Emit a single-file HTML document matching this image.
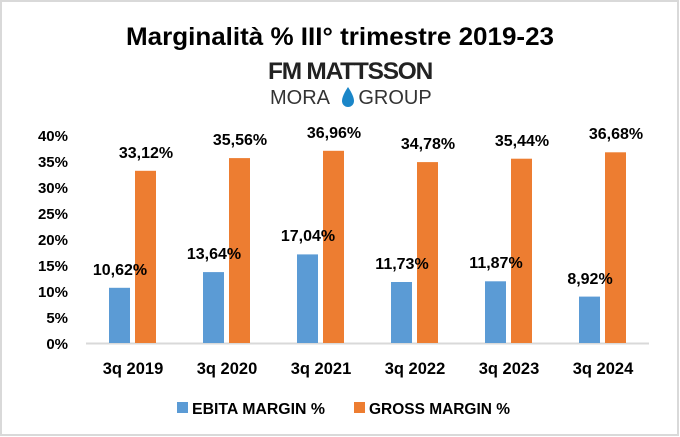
<!DOCTYPE html>
<html><head><meta charset="utf-8"><style>
body{margin:0;background:#fff;}
svg{display:block;font-family:"Liberation Sans",sans-serif;}
</style></head><body>
<svg width="680" height="437" xmlns="http://www.w3.org/2000/svg">
<rect x="1" y="1" width="677" height="434" fill="#fff" stroke="#d9d9d9" stroke-width="2"/>
<text x="340" y="45" text-anchor="middle" font-size="25" font-weight="bold" fill="#000" textLength="428" lengthAdjust="spacingAndGlyphs">Marginalità % III° trimestre 2019-23</text>
<text x="350" y="79" text-anchor="middle" font-size="24" font-weight="bold" fill="#222" letter-spacing="-1.2" textLength="164" lengthAdjust="spacingAndGlyphs">FM MATTSSON</text>
<text x="300" y="104" text-anchor="middle" font-size="20" fill="#333">MORA</text>
<path d="M348 87 Q342 96 342 101 A6 6 0 0 0 354 101 Q354 96 348 87Z" fill="#1a86c8"/>
<text x="395" y="104" text-anchor="middle" font-size="20" fill="#333">GROUP</text>
<g font-size="15" font-weight="bold" fill="#000" text-anchor="end">
<text x="68" y="141">40%</text><text x="68" y="167">35%</text><text x="68" y="193">30%</text><text x="68" y="219">25%</text><text x="68" y="245">20%</text><text x="68" y="271">15%</text><text x="68" y="297">10%</text><text x="68" y="323">5%</text><text x="68" y="349">0%</text>
</g>
<line x1="86" y1="343.5" x2="649" y2="343.5" stroke="#d9d9d9" stroke-width="2"/>
<g>
<rect x="109" y="287.8" width="21" height="55.2" fill="#5b9bd5"/><rect x="135" y="170.8" width="21" height="172.2" fill="#ed7d31"/>
<rect x="203" y="272.1" width="21" height="70.9" fill="#5b9bd5"/><rect x="229" y="158.1" width="21" height="184.9" fill="#ed7d31"/>
<rect x="297" y="254.4" width="21" height="88.6" fill="#5b9bd5"/><rect x="323" y="150.8" width="21" height="192.2" fill="#ed7d31"/>
<rect x="391" y="282" width="21" height="61" fill="#5b9bd5"/><rect x="417" y="162.1" width="21" height="180.9" fill="#ed7d31"/>
<rect x="485" y="281.3" width="21" height="61.7" fill="#5b9bd5"/><rect x="511" y="158.7" width="21" height="184.3" fill="#ed7d31"/>
<rect x="579" y="296.6" width="21" height="46.4" fill="#5b9bd5"/><rect x="605" y="152.3" width="21" height="190.7" fill="#ed7d31"/>
</g>
<g font-size="16" font-weight="bold" fill="#000" text-anchor="middle">
<text x="120" y="275">10,62%</text><text x="146" y="158">33,12%</text>
<text x="214" y="259">13,64%</text><text x="240" y="145">35,56%</text>
<text x="308" y="241">17,04%</text><text x="334" y="138">36,96%</text>
<text x="402" y="269">11,73%</text><text x="428" y="149">34,78%</text>
<text x="496" y="268">11,87%</text><text x="522" y="146">35,44%</text>
<text x="590" y="284">8,92%</text><text x="616" y="139">36,68%</text>
</g>
<g font-size="16.5" font-weight="bold" fill="#000" text-anchor="middle">
<text x="133" y="374">3q 2019</text><text x="227" y="374">3q 2020</text><text x="321" y="374">3q 2021</text><text x="415" y="374">3q 2022</text><text x="509" y="374">3q 2023</text><text x="603" y="374">3q 2024</text>
</g>
<rect x="177" y="402" width="11" height="11" fill="#5b9bd5"/>
<text x="192" y="414" font-size="15.5" font-weight="bold" fill="#000" textLength="133" lengthAdjust="spacingAndGlyphs">EBITA MARGIN %</text>
<rect x="354" y="402" width="11" height="11" fill="#ed7d31"/>
<text x="369" y="414" font-size="15.5" font-weight="bold" fill="#000" textLength="141" lengthAdjust="spacingAndGlyphs">GROSS MARGIN %</text>
</svg>
</body></html>
